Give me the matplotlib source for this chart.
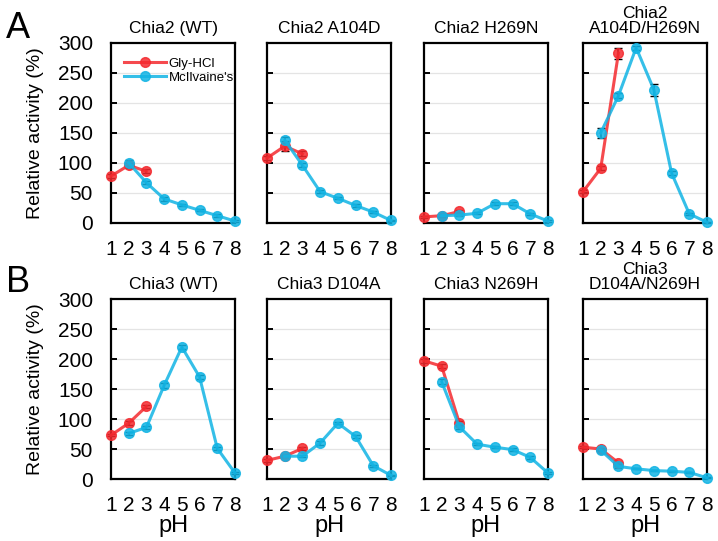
import numpy as np
import matplotlib.pyplot as plt

plt.rcParams['font.family'] = ['Liberation Sans', 'DejaVu Sans']

ph_gly = [1, 2, 3]
ph_mci = [2, 3, 4, 5, 6, 7, 8]

titles = ["Chia2 (WT)", "Chia2 A104D", "Chia2 H269N", "Chia2\nA104D/H269N",
          "Chia3 (WT)", "Chia3 D104A", "Chia3 N269H", "Chia3\nD104A/N269H"]

gly = [
    [78, 96, 86],
    [108, 128, 115],
    [10, 12, 19],
    [52, 91, 283],
    [73, 93, 121],
    [31, 38, 51],
    [197, 188, 93],
    [53, 50, 27],
]
gly_err = [
    [3, 4, 3],
    [3, 8, 4],
    [2, 2, 2],
    [2, 3, 9],
    [2, 3, 3],
    [2, 2, 2],
    [3, 3, 3],
    [2, 2, 2],
]
mci = [
    [100, 67, 40, 30, 21, 12, 3],
    [138, 96, 52, 41, 29, 18, 4],
    [12, 13, 16, 32, 32, 15, 3],
    [150, 212, 292, 222, 83, 15, 1],
    [76, 86, 156, 220, 170, 51, 10],
    [38, 38, 60, 93, 71, 22, 6],
    [162, 87, 58, 53, 49, 36, 10],
    [48, 21, 17, 14, 13, 11, 2],
]
mci_err = [
    [4, 3, 3, 2, 2, 2, 1],
    [5, 3, 2, 2, 2, 2, 1],
    [2, 2, 2, 3, 3, 2, 1],
    [8, 4, 3, 10, 3, 2, 1],
    [3, 3, 4, 3, 3, 2, 1],
    [2, 2, 3, 2, 2, 2, 1],
    [4, 3, 2, 2, 2, 2, 1],
    [2, 2, 1, 1, 1, 1, 1],
]

RED = '#f42a2f'
CYAN = '#12b4e4'

fig = plt.figure(figsize=(7.18, 5.41), dpi=100)

lefts = [0.1546, 0.3719, 0.5905, 0.812]
bottoms = [0.588, 0.1146]
w, h = 0.1727, 0.3327

for i in range(8):
    r, c = divmod(i, 4)
    ax = fig.add_axes([lefts[c], bottoms[r], w, h])
    ax.set_xlim(1, 8)
    ax.set_ylim(0, 300)
    ax.set_yticks([0, 50, 100, 150, 200, 250, 300])
    ax.set_xticks(range(1, 9))
    for y in [50, 100, 150, 200, 250]:
        ax.axhline(y, color='#e4e4e4', lw=0.9, zorder=0)
    ax.errorbar(ph_gly, gly[i], yerr=gly_err[i], fmt='none',
                ecolor='black', elinewidth=1.2, capsize=3, clip_on=False, zorder=2)
    ax.errorbar(ph_mci, mci[i], yerr=mci_err[i], fmt='none',
                ecolor='black', elinewidth=1.2, capsize=3, clip_on=False, zorder=2)
    ax.plot(ph_gly, gly[i], color=RED, lw=2.2, marker='o', ms=7,
            alpha=0.85, clip_on=False, label='Gly-HCl', zorder=3)
    ax.plot(ph_mci, mci[i], color=CYAN, lw=2.2, marker='o', ms=7,
            alpha=0.85, clip_on=False, label="McIlvaine's", zorder=4)
    for s in ax.spines.values():
        s.set_linewidth(1.6)
    ax.tick_params(axis='y', direction='in', length=4, width=1.4, labelsize=15, pad=13)
    ax.tick_params(axis='x', length=0, labelsize=15, pad=12)
    if c > 0:
        ax.set_yticklabels([])
    else:
        ax.set_ylabel('Relative activity (%)', fontsize=14, labelpad=10)
    if r == 1:
        ax.set_xlabel('pH', fontsize=17, labelpad=0)
    ax.set_title(titles[i], fontsize=12.5, pad=7, linespacing=1.0)
    if i == 0:
        ax.legend(loc='upper left', fontsize=9.5, frameon=False,
                  handlelength=3.2, borderaxespad=0.3, handletextpad=0.2,
                  labelspacing=0.15, bbox_to_anchor=(0.03, 0.97))

fig.text(0.008, 0.93, 'A', fontsize=26)
fig.text(0.008, 0.46, 'B', fontsize=26)

fig.savefig('out.png', dpi=100)
